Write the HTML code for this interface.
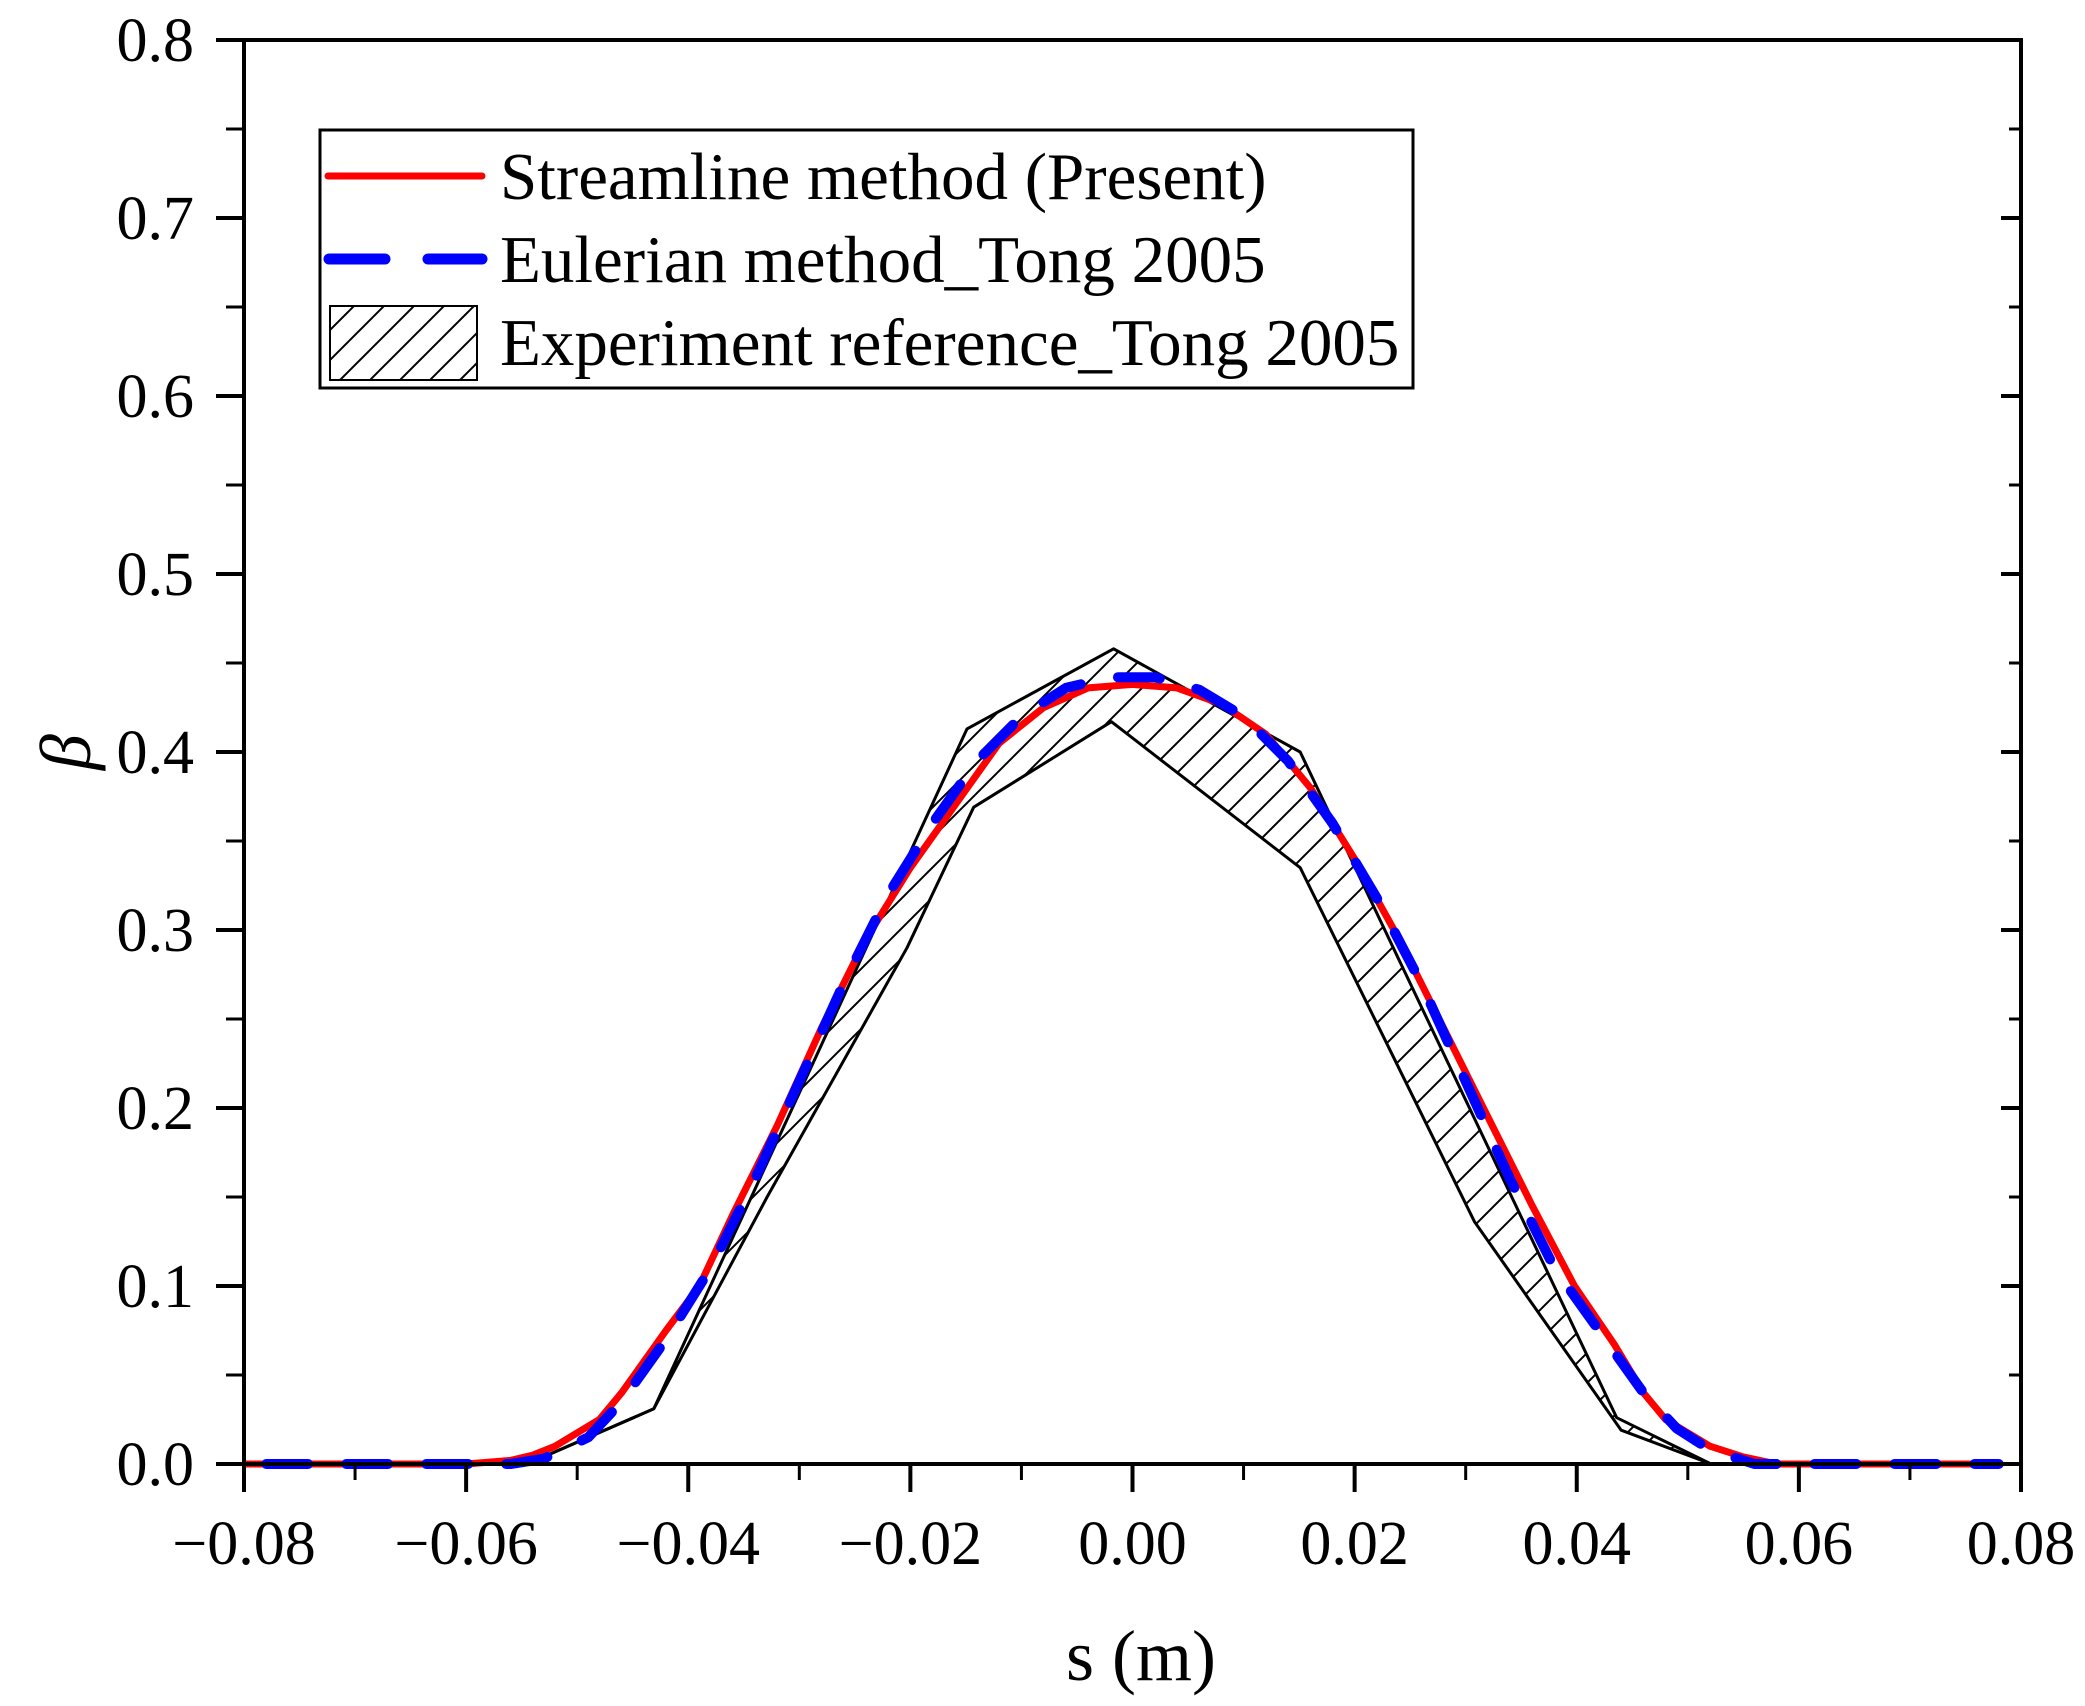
<!DOCTYPE html>
<html><head><meta charset="utf-8"><style>
html,body{margin:0;padding:0;background:#fff;}
svg{display:block;font-family:"Liberation Serif",serif;}
</style></head><body>
<svg id="chart" width="2085" height="1706" viewBox="0 0 2085 1706" xmlns="http://www.w3.org/2000/svg">
<defs>
<pattern id="hatch" patternUnits="userSpaceOnUse" width="30" height="30">
<path d="M-5,5 L5,-5 M0,30 L30,0 M25,35 L35,25" stroke="#000" stroke-width="2"/>
</pattern>
</defs>
<g id="plot"></g>
</svg>
<script>
const xTicks = [-0.08,-0.06,-0.04,-0.02,0.00,0.02,0.04,0.06,0.08];
const xTickLabels = ["\u22120.08","\u22120.06","\u22120.04","\u22120.02","0.00","0.02","0.04","0.06","0.08"];
const yTicks = [0,0.1,0.2,0.3,0.4,0.5,0.6,0.7,0.8];
const yTickLabels = ["0.0","0.1","0.2","0.3","0.4","0.5","0.6","0.7","0.8"];
const expUpperX = [-0.0545,-0.0431,-0.0149,-0.0017,0.0151,0.0436,0.0521];
const expUpperY = [0,0.031,0.413,0.458,0.400,0.026,0];
const expLowerX = [-0.0545,-0.0431,-0.0329,-0.0203,-0.0143,-0.0019,0.0151,0.0308,0.0440,0.0521];
const expLowerY = [0,0.031,0.150,0.290,0.369,0.417,0.335,0.136,0.019,0];
const redX = [-0.08,-0.06,-0.056,-0.054,-0.052,-0.048,-0.046,-0.042,-0.039,-0.036,-0.032,-0.028,-0.024,-0.020,-0.016,-0.012,-0.008,-0.004,0,0.004,0.008,0.012,0.016,0.020,0.024,0.028,0.032,0.036,0.0398,0.0434,0.046,0.048,0.052,0.055,0.058,0.078];
const redY = [0,0,0.002,0.005,0.01,0.025,0.04,0.075,0.1,0.14,0.19,0.245,0.295,0.335,0.37,0.405,0.425,0.436,0.438,0.436,0.427,0.41,0.38,0.34,0.295,0.245,0.195,0.145,0.1,0.067,0.04,0.025,0.01,0.004,0,0];
const blueX = [-0.078,-0.056,-0.053,-0.049,-0.046,-0.042,-0.038,-0.034,-0.030,-0.026,-0.022,-0.018,-0.014,-0.010,-0.006,-0.002,0.002,0.006,0.010,0.014,0.018,0.022,0.026,0.030,0.034,0.038,0.042,0.046,0.049,0.052,0.056,0.078];
const blueY = [0,0,0.003,0.015,0.035,0.07,0.11,0.16,0.215,0.27,0.32,0.36,0.395,0.42,0.436,0.442,0.442,0.435,0.42,0.395,0.36,0.318,0.27,0.215,0.16,0.11,0.075,0.04,0.02,0.008,0,0];

const X0=244, X1=2021, Y0=1464, Y1=40;
const sx = v => X0 + (v+0.08)/0.16*(X1-X0);
const sy = v => Y0 - v/0.8*(Y0-Y1);
const NS="http://www.w3.org/2000/svg";
const g=document.getElementById('plot');
function mk(tag, attrs, parent){const e=document.createElementNS(NS,tag);for(const k in attrs)e.setAttribute(k,attrs[k]);(parent||g).appendChild(e);return e;}
const pts=(xs,ys)=>xs.map((x,i)=>sx(x).toFixed(1)+','+sy(ys[i]).toFixed(1)).join(' ');

const poly = pts(expUpperX,expUpperY)+' '+pts(expLowerX.slice().reverse(),expLowerY.slice().reverse());
const hatch=mk('polygon',{points:poly,fill:'url(#hatch)',stroke:'none'});


const up=mk('polyline',{points:pts(expUpperX,expUpperY),fill:'none',stroke:'#000','stroke-width':3,'stroke-linejoin':'round'});


const lo=mk('polyline',{points:pts(expLowerX,expLowerY),fill:'none',stroke:'#000','stroke-width':3,'stroke-linejoin':'round'});



const red=mk('polyline',{points:pts(redX,redY),fill:'none',stroke:'#ff0000','stroke-width':7,'stroke-linejoin':'round'});


const blue=mk('polyline',{points:pts(blueX,blueY),fill:'none',stroke:'#0000ff','stroke-width':10,'stroke-linecap':'round','stroke-linejoin':'round','stroke-dasharray':'42 38'});



const frame=mk('rect',{x:X0,y:Y1,width:X1-X0,height:Y0-Y1,fill:'none',stroke:'#000','stroke-width':4});



xTicks.forEach((v,i)=>{
  const x=sx(v);
  const t=mk('line',{x1:x,y1:Y0,x2:x,y2:Y0+28,stroke:'#000','stroke-width':4});
  
  
  const l=mk('text',{x:x,y:Y0+100,'font-size':62,'text-anchor':'middle'});
  l.textContent=xTickLabels[i];
  
  
  if(i<xTicks.length-1){
    const m=sx(v+0.01);
    const mt=mk('line',{x1:m,y1:Y0,x2:m,y2:Y0+16,stroke:'#000','stroke-width':3});
    
    
  }
});
yTicks.forEach((v,i)=>{
  const y=sy(v);
  const t=mk('line',{x1:X0-28,y1:y,x2:X0,y2:y,stroke:'#000','stroke-width':4});
  
  
  const r=mk('line',{x1:X1-20,y1:y,x2:X1,y2:y,stroke:'#000','stroke-width':4});
  
  
  const l=mk('text',{x:194,y:y+21,'font-size':62,'text-anchor':'end'});
  l.textContent=yTickLabels[i];
  
  
  if(i<yTicks.length-1){
    const m=sy(v+0.05);
    const mt=mk('line',{x1:X0-18,y1:m,x2:X0,y2:m,stroke:'#000','stroke-width':3});
    
    
    const mr=mk('line',{x1:X1-12,y1:m,x2:X1,y2:m,stroke:'#000','stroke-width':3});
    
    
  }
});
</script>
<svg style="position:absolute;left:0;top:0" width="2085" height="1706">
<text x="1141" y="1680" font-size="72" text-anchor="middle" font-family="Liberation Serif,serif">s (m)</text>
<text x="90" y="752" font-size="72" font-style="italic" text-anchor="middle" font-family="Liberation Serif,serif" transform="rotate(-90 90 752)">β</text>
<g font-family="Liberation Serif,serif" font-size="67">
<rect x="320" y="130" width="1093" height="258" fill="#fff" stroke="#000" stroke-width="3"/>
<line x1="328" y1="176" x2="482" y2="176" stroke="#ff0000" stroke-width="7" stroke-linecap="round"/>
<text x="500" y="199">Streamline method (Present)</text>
<line x1="329" y1="259" x2="385" y2="259" stroke="#0000ff" stroke-width="11" stroke-linecap="round"/>
<line x1="428" y1="259" x2="482" y2="259" stroke="#0000ff" stroke-width="11" stroke-linecap="round"/>
<text x="500" y="282">Eulerian method_Tong 2005</text>
<rect x="330" y="306" width="147" height="74" fill="url(#hatch)" stroke="#000" stroke-width="2"/>
<text x="500" y="365">Experiment reference_Tong 2005</text>
</g>
</svg>
</body></html>
